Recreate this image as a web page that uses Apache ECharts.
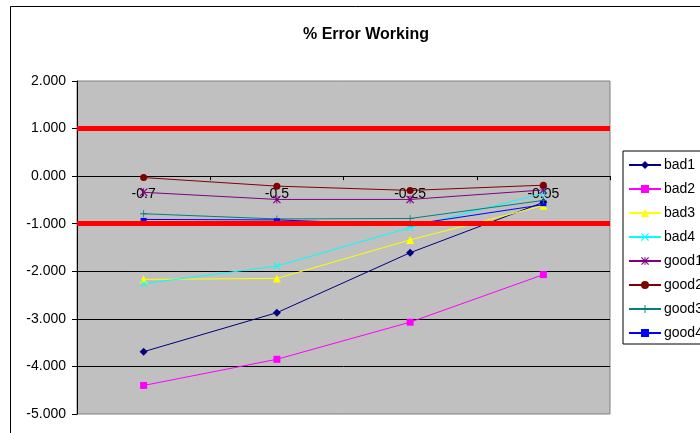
<!DOCTYPE html>
<html>
<head>
<meta charset="utf-8">
<title>% Error Working</title>
<script src="https://cdn.jsdelivr.net/npm/echarts@6/dist/echarts.min.js"></script>
<style>
  html, body { margin: 0; padding: 0; background: #ffffff; }
  #chart { width: 700px; height: 433px; }
</style>
</head>
<body>
<div id="chart"></div>
<script>
// Categories along the x axis
const categories = ['-0.7', '-0.5', '-0.25', '-0.05'];

// % error per run
const bad1  = [-3.69, -2.87, -1.61, -0.55];
const bad2  = [-4.40, -3.85, -3.07, -2.07];
const bad3  = [-2.17, -2.15, -1.34, -0.62];
const bad4  = [-2.26, -1.89, -1.08, -0.36];
const good1 = [-0.34, -0.49, -0.49, -0.29];
const good2 = [-0.03, -0.21, -0.30, -0.19];
const good3 = [-0.79, -0.90, -0.89, -0.51];
const good4 = [-0.91, -0.92, -1.02, -0.60];

// Tolerance band drawn as thick red lines
const limits = [1, -1];

// Value axis range
const yMin = -5;
const yMax = 2;
const yStep = 1;

const FONT = 'Arial, "Liberation Sans", sans-serif';

// Plot box
const GRID_LEFT = 77;
const GRID_TOP = 81;
const GRID_W = 533;
const GRID_H = 333;

// The category axis crosses the value axis at 0
const xAxisOffset = -((0 - yMin) / (yMax - yMin)) * GRID_H;

// Marker shapes
const xMark = 'path://M0,1 L1,0 L5,4 L9,0 L10,1 L6,5 L10,9 L9,10 L5,6 L1,10 L0,9 L4,5 Z';
const starMark = 'path://M0,1 L1,0 L5,4 L9,0 L10,1 L6,5 L10,9 L9,10 L5,6 L1,10 L0,9 L4,5 Z M4.4,0 L5.6,0 L5.6,10 L4.4,10 Z';
const plusMark = 'path://M4.4,0 L5.6,0 L5.6,4.4 L10,4.4 L10,5.6 L5.6,5.6 L5.6,10 L4.4,10 L4.4,5.6 L0,5.6 L0,4.4 L4.4,4.4 Z';

const seriesDefs = [
  { name: 'bad1',  data: bad1,  color: '#000080', symbol: 'diamond',  size: 8 },
  { name: 'bad2',  data: bad2,  color: '#ff00ff', symbol: 'rect',     size: 7 },
  { name: 'bad3',  data: bad3,  color: '#ffff00', symbol: 'triangle', size: 8 },
  { name: 'bad4',  data: bad4,  color: '#00ffff', symbol: xMark,      size: 7 },
  { name: 'good1', data: good1, color: '#800080', symbol: starMark,   size: 8 },
  { name: 'good2', data: good2, color: '#800000', symbol: 'circle',   size: 7 },
  { name: 'good3', data: good3, color: '#008080', symbol: plusMark,   size: 7 },
  { name: 'good4', data: good4, color: '#0000ff', symbol: 'rect',     size: [6, 3] }
];

const series = seriesDefs.map(function (d, i) {
  const s = {
    name: d.name,
    type: 'line',
    data: d.data,
    symbol: d.symbol,
    symbolSize: d.size,
    showAllSymbol: true,
    lineStyle: { color: d.color, width: 1 },
    itemStyle: { color: d.color, borderWidth: 0 },
    emphasis: { disabled: true },
    animation: false,
    z: 2
  };
  if (i === seriesDefs.length - 1) {
    s.z = 3;
    s.markLine = {
      silent: true,
      symbol: 'none',
      label: { show: false },
      lineStyle: { color: '#ff0000', width: 5, type: 'solid' },
      data: limits.map(function (v) { return { yAxis: v }; })
    };
  }
  return s;
});

const chart = echarts.init(document.getElementById('chart'), null, { renderer: 'canvas' });

chart.setOption({
  backgroundColor: '#ffffff',
  animation: false,
  textStyle: { fontFamily: FONT },
  title: {
    text: '% Error Working',
    left: 361,
    top: 22,
    textAlign: 'center',
    textStyle: { fontFamily: FONT, fontSize: 16, fontWeight: 'bold', color: '#000000' }
  },
  graphic: [{
    type: 'rect',
    silent: true,
    z: -10,
    shape: { x: 10.5, y: 6.5, width: 760, height: 480 },
    style: { fill: 'none', stroke: '#000000', lineWidth: 1 }
  }],
  legend: {
    orient: 'vertical',
    left: 623,
    top: 151,
    data: seriesDefs.map(function (d) { return d.name; }),
    itemWidth: 32,
    itemHeight: 10,
    itemGap: 10,
    padding: [7, 8, 4, 5],
    borderColor: '#000000',
    borderWidth: 1,
    backgroundColor: '#ffffff',
    selectedMode: false,
    lineStyle: { width: 2 },
    textStyle: { fontFamily: FONT, fontSize: 14, color: '#000000', padding: [0, 0, 0, -2] }
  },
  grid: {
    left: GRID_LEFT,
    top: GRID_TOP,
    width: GRID_W,
    height: GRID_H,
    show: true,
    backgroundColor: '#c0c0c0',
    borderColor: '#808080',
    borderWidth: 1,
    containLabel: false
  },
  xAxis: {
    type: 'category',
    data: categories,
    boundaryGap: true,
    offset: xAxisOffset,
    axisLine: { show: true, onZero: false, lineStyle: { color: '#000000', width: 1 } },
    axisTick: { show: true, inside: false, length: 4, alignWithLabel: false, lineStyle: { color: '#000000' } },
    axisLabel: { margin: 11, fontFamily: FONT, fontSize: 14, color: '#000000' },
    splitLine: { show: false }
  },
  yAxis: {
    type: 'value',
    min: yMin,
    max: yMax,
    interval: yStep,
    axisLine: { show: true, lineStyle: { color: '#000000', width: 1 } },
    axisTick: { show: true, inside: false, length: 5, lineStyle: { color: '#000000' } },
    axisLabel: {
      margin: 11,
      fontFamily: FONT,
      fontSize: 14,
      color: '#000000',
      formatter: function (v) { return v.toFixed(3); }
    },
    splitLine: {
      show: true,
      showMinLine: false,
      showMaxLine: false,
      lineStyle: { color: '#000000', width: 1 }
    }
  },
  series: series
});
</script>
</body>
</html>
